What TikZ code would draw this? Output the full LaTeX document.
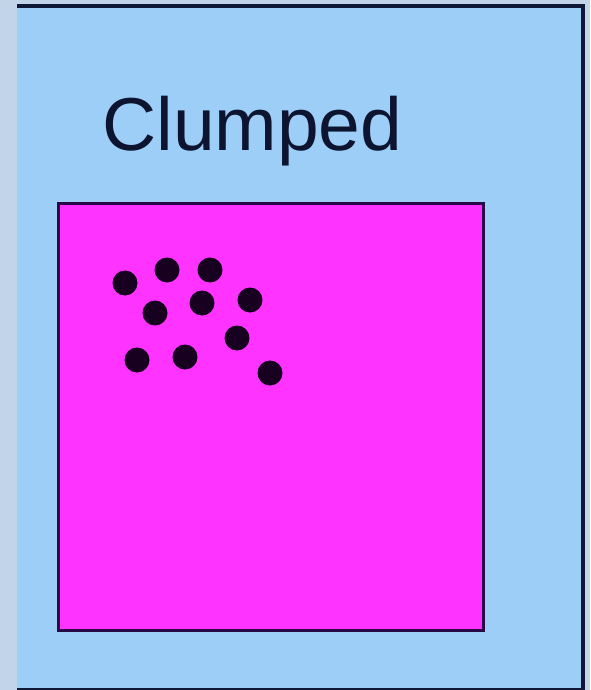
\documentclass[tikz,border=0pt]{standalone}
\usepackage{fontspec}
\setmainfont{Liberation Sans}
\definecolor{outerbg}{HTML}{C2D4E8}
\definecolor{panelbg}{HTML}{9DCEF8}
\definecolor{edge}{HTML}{101838}
\definecolor{fieldpink}{HTML}{FF33FF}
\definecolor{fieldedge}{HTML}{2A0848}
\definecolor{dotcol}{HTML}{180020}
\definecolor{textcol}{HTML}{0C1430}
\begin{document}
\begin{tikzpicture}[x=1pt,y=-1pt,
  dotstyle/.style={fill=dotcol},
]
\useasboundingbox (0,0) rectangle (590,690);
\fill[outerbg] (0,0) rectangle (590,690);
\fill[panelbg] (17,4) rectangle (584,690);
\draw[edge,line width=3.5pt] (17,5.8) -- (583,5.8) -- (583,690);
\draw[edge,line width=2pt] (17,689) -- (583,689);
\node[anchor=base west,inner sep=0pt,text=textcol,font=\fontsize{75}{80}\selectfont] (title) at (102,150) {Clumped};
\draw[fill=fieldpink,draw=fieldedge,line width=3pt] (58.5,203.5) rectangle (483.5,630.5);
\foreach \x/\y [count=\i] in {125/283,167/270,210/270,155/313,202/303,250/300,237/338,137/360,185/357,270/373}
  \fill[dotstyle] (\x,\y) circle (12.5);
\end{tikzpicture}
\end{document}
